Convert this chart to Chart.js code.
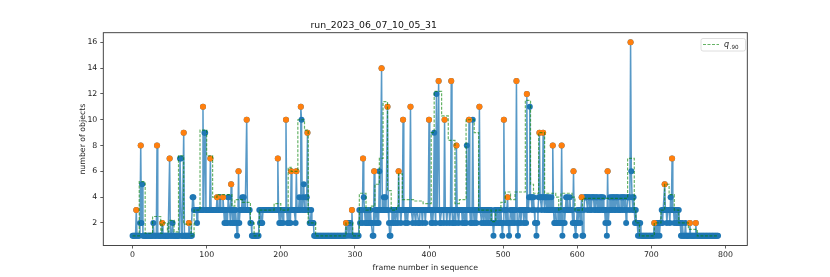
<!DOCTYPE html>
<html>
<head>
<meta charset="utf-8">
<script src="https://cdn.jsdelivr.net/npm/chart.js@4.4.0/dist/chart.umd.min.js"></script>
<style>
  html, body { margin: 0; padding: 0; background: #fff; }
  #wrap { width: 830px; height: 277px; }
</style>
</head>
<body>
<div id="wrap"><canvas id="objectsChart" width="830" height="277"></canvas></div>
<script>
const chartTitle = 'run_2023_06_07_10_05_31';

// number of objects per frame (frame = index)
const objectCounts = [
    1, 1, 1, 1, 1, 3, 1, 1, 1, 1,
    2, 8, 2, 5, 1, 1, 1, 1, 1, 1,
    1, 1, 1, 1, 1, 1, 1, 1, 2, 1,
    1, 1, 1, 8, 1, 1, 1, 1, 1, 1,
    2, 1, 1, 1, 1, 1, 1, 1, 1, 1,
    7, 1, 1, 1, 2, 1, 1, 1, 1, 1,
    1, 1, 1, 1, 7, 7, 1, 1, 1, 9,
    1, 1, 1, 1, 1, 1, 2, 1, 1, 1,
    1, 4, 4, 3, 3, 3, 3, 2, 3, 3,
    3, 3, 3, 3, 3, 11, 3, 9, 9, 3,
    3, 3, 3, 3, 3, 7, 3, 3, 3, 3,
    3, 3, 3, 3, 4, 3, 3, 3, 4, 3,
    3, 3, 4, 3, 2, 3, 2, 3, 2, 4,
    4, 3, 2, 5, 3, 2, 3, 2, 3, 3,
    2, 1, 2, 6, 2, 3, 3, 3, 4, 3,
    4, 3, 3, 3, 10, 3, 3, 3, 3, 2,
    2, 1, 1, 1, 1, 1, 1, 1, 1, 1,
    1, 3, 2, 3, 2, 2, 3, 3, 3, 3,
    3, 3, 3, 3, 3, 3, 3, 3, 3, 3,
    3, 3, 3, 3, 3, 3, 7, 3, 2, 3,
    2, 3, 3, 2, 3, 3, 3, 10, 3, 2,
    3, 2, 3, 2, 6, 3, 3, 3, 3, 3,
    2, 6, 3, 3, 3, 4, 3, 11, 10, 3,
    4, 5, 3, 3, 4, 4, 9, 3, 3, 2,
    2, 3, 2, 2, 2, 1, 1, 1, 1, 1,
    1, 1, 1, 1, 1, 1, 1, 1, 1, 1,
    1, 1, 1, 1, 1, 1, 1, 1, 1, 1,
    1, 1, 1, 1, 1, 1, 1, 1, 1, 1,
    1, 1, 1, 1, 1, 1, 1, 1, 2, 1,
    2, 2, 1, 2, 2, 1, 3, 1, 1, 1,
    1, 1, 1, 1, 1, 1, 3, 2, 3, 3,
    2, 7, 4, 3, 2, 3, 2, 2, 3, 2,
    2, 3, 2, 2, 1, 1, 6, 2, 3, 3,
    2, 3, 2, 6, 3, 3, 14, 3, 3, 4,
    3, 4, 3, 3, 11, 3, 2, 1, 1, 2,
    3, 3, 2, 3, 3, 2, 3, 3, 2, 6,
    3, 3, 2, 3, 3, 10, 3, 3, 2, 3,
    3, 2, 3, 3, 3, 11, 3, 3, 2, 3,
    3, 3, 2, 3, 3, 3, 2, 2, 3, 3,
    3, 2, 3, 3, 3, 2, 3, 3, 3, 3,
    10, 3, 3, 2, 3, 2, 3, 9, 3, 2,
    12, 3, 3, 13, 3, 2, 2, 3, 3, 3,
    2, 10, 3, 3, 2, 3, 3, 3, 2, 3,
    13, 3, 2, 2, 3, 3, 2, 8, 3, 3,
    2, 3, 3, 3, 3, 2, 3, 3, 2, 3,
    2, 8, 3, 3, 10, 3, 2, 3, 2, 10,
    3, 2, 3, 3, 2, 3, 3, 3, 11, 3,
    3, 2, 3, 3, 2, 3, 3, 2, 3, 3,
    2, 3, 3, 2, 3, 2, 2, 1, 2, 3,
    3, 2, 3, 3, 2, 3, 2, 3, 2, 1,
    2, 10, 3, 3, 2, 3, 4, 2, 1, 2,
    3, 3, 2, 3, 3, 2, 3, 3, 13, 2,
    1, 2, 3, 3, 2, 3, 3, 3, 2, 3,
    3, 2, 12, 3, 3, 4, 11, 4, 4, 3,
    4, 4, 3, 2, 2, 1, 2, 3, 4, 9,
    4, 4, 3, 4, 9, 4, 3, 4, 4, 3,
    4, 3, 4, 3, 3, 4, 3, 8, 3, 2,
    2, 3, 2, 2, 3, 3, 2, 3, 2, 8,
    1, 2, 3, 2, 3, 4, 3, 4, 3, 3,
    4, 3, 3, 3, 2, 6, 2, 2, 1, 2,
    3, 2, 3, 3, 2, 3, 4, 1, 1, 3,
    4, 4, 4, 4, 3, 4, 4, 3, 4, 3,
    4, 4, 4, 3, 4, 3, 4, 4, 3, 3,
    4, 3, 4, 4, 3, 4, 3, 3, 2, 3,
    1, 6, 2, 3, 4, 3, 4, 3, 4, 4,
    3, 4, 3, 4, 4, 3, 4, 3, 3, 4,
    4, 3, 4, 4, 3, 4, 2, 3, 4, 4,
    4, 3, 16, 6, 4, 3, 4, 3, 2, 3,
    2, 2, 1, 2, 1, 2, 1, 1, 1, 1,
    1, 1, 1, 1, 1, 1, 1, 1, 1, 1,
    1, 1, 1, 1, 2, 1, 2, 2, 1, 2,
    2, 1, 2, 2, 3, 2, 3, 3, 5, 3,
    3, 2, 3, 3, 3, 2, 4, 3, 7, 3,
    3, 2, 3, 3, 2, 3, 2, 3, 2, 2,
    1, 1, 2, 1, 1, 1, 2, 1, 1, 1,
    1, 1, 2, 1, 1, 1, 1, 1, 1, 1,
    2, 1, 1, 1, 1, 1, 1, 1, 1, 1,
    1, 1, 1, 1, 1, 1, 1, 1, 1, 1,
    1, 1, 1, 1, 1, 1, 1, 1, 1, 1,
    1
];

// frames marked as peaks (orange dots)
const peakFrames = [5, 11, 33, 40, 50, 69, 76, 95, 105, 114, 122, 133, 143, 154, 196, 207, 214, 221,
    227, 236, 288, 296, 311, 326, 336, 344, 359, 365, 375, 400, 413, 421, 430, 437, 454, 468,
    501, 506, 518, 532, 549, 554, 567, 579, 595, 606, 641, 672, 704, 718, 728, 752, 760];

// q.90 line: frame where each level starts, and the level
const q90Frames = [0, 9, 17, 27, 38, 40, 47, 49, 56, 62, 69, 79, 83, 91, 100, 108, 114, 134, 138, 148,
    159, 164, 171, 191, 200, 210, 214, 223, 232, 237, 247, 288, 297, 306, 315, 321, 327, 333, 338, 344,
    349, 356, 359, 364, 381, 392, 403, 407, 417, 426, 435, 441, 450, 461, 467, 484, 490, 497, 503, 510,
    516, 530, 537, 541, 548, 556, 571, 575, 578, 593, 597, 607, 668, 677, 679, 684, 704, 713, 718, 724,
    731, 737, 750, 762, 790];
const q90Values = [1, 5.2, 1.2, 2.5, 1.2, 2, 1.3, 2.2, 1.3, 7.2, 1.9, 1, 3, 9.2, 7.2, 4, 4.2, 3.3, 3.8, 3.6,
    2, 1, 3, 3.5, 3, 6.3, 6, 10, 9.2, 2, 1, 2, 1, 4.3, 3, 3.3, 5, 7, 11.4, 4.5,
    3, 3.3, 5.8, 3.8, 3.7, 3.5, 9, 12.2, 10.3, 8.4, 3.5, 3.8, 10, 9, 3, 2.1, 3, 3.6, 4.4, 3.8,
    4.4, 11.5, 5, 4.3, 9, 4.3, 4, 3, 4.3, 4, 3, 3.9, 7, 3, 2, 1, 2, 3, 5, 4.2,
    3, 2, 1.5, 1, 1];

const xTicks = [0, 100, 200, 300, 400, 500, 600, 700, 800];
const yTicks = [2, 4, 6, 8, 10, 12, 14, 16];

const blue = '#1f77b4';
const orange = '#ff7f0e';
const q90Color = 'rgba(0, 128, 0, 0.6)';

Chart.defaults.font.family = "'DejaVu Sans', sans-serif";

// draws the full box round the plot, like matplotlib spines
const framePlugin = {
    id: 'axesFrame',
    afterDatasetsDraw(chart) {
        const { ctx, chartArea: a } = chart;
        ctx.save();
        ctx.strokeStyle = '#333';
        ctx.lineWidth = 0.9;
        ctx.strokeRect(a.left, a.top, a.right - a.left, a.bottom - a.top);
        ctx.restore();
    }
};

// legend with the q subscript .90
const legendPlugin = {
    id: 'q90Legend',
    afterDraw(chart) {
        const { ctx, chartArea: a } = chart;
        const bw = 44.5, bh = 12.5;
        const bx = a.right - bw - 1.8, by = a.top + 5.8;
        ctx.save();
        ctx.beginPath();
        ctx.roundRect(bx, by, bw, bh, 2);
        ctx.fillStyle = 'rgba(255,255,255,0.8)';
        ctx.fill();
        ctx.strokeStyle = '#d6d6d6';
        ctx.lineWidth = 0.8;
        ctx.stroke();

        ctx.strokeStyle = q90Color;
        ctx.lineWidth = 1.2;
        ctx.setLineDash([3, 1.5]);
        ctx.beginPath();
        ctx.moveTo(bx + 2, by + 6);
        ctx.lineTo(bx + 18, by + 6);
        ctx.stroke();
        ctx.setLineDash([]);

        ctx.fillStyle = '#222';
        ctx.textBaseline = 'alphabetic';
        ctx.font = "italic 8px 'DejaVu Sans'";
        ctx.fillText('q', bx + 23, by + 8.3);
        ctx.font = "5.6px 'DejaVu Sans'";
        ctx.fillText('.90', bx + 28.6, by + 10);
        ctx.restore();
    }
};

const ctx = document.getElementById('objectsChart').getContext('2d');
new Chart(ctx, {
    type: 'line',
    data: {
        datasets: [
            {
                label: 'objects',
                data: objectCounts.map((v, i) => ({ x: i, y: v })),
                borderColor: 'rgba(31, 119, 180, 0.75)',
                borderWidth: 1.5,
                pointRadius: 3,
                pointBorderWidth: 0,
                pointBackgroundColor: blue,
                order: 2
            },
            {
                label: 'peaks',
                data: peakFrames.map(f => ({ x: f, y: objectCounts[f] })),
                showLine: false,
                pointRadius: 3,
                pointBorderWidth: 0,
                pointBackgroundColor: orange,
                order: 1
            },
            {
                label: 'q.90',
                data: q90Frames.map((f, i) => ({ x: f, y: q90Values[i] })),
                stepped: true,
                borderColor: q90Color,
                borderWidth: 1.2,
                borderDash: [3, 1.5],
                pointRadius: 0,
                order: 0
            }
        ]
    },
    options: {
        responsive: false,
        animation: false,
        devicePixelRatio: 1,
        layout: { padding: { left: 0, right: 82.7, top: 0, bottom: 0 } },
        plugins: {
            legend: { display: false },
            tooltip: { enabled: false },
            title: {
                display: true,
                text: chartTitle,
                color: '#111',
                font: { size: 9.3, weight: 'normal' },
                padding: { top: 20, bottom: 1.54 }
            }
        },
        scales: {
            x: {
                type: 'linear',
                min: -39.5,
                max: 829.5,
                afterBuildTicks: axis => { axis.ticks = xTicks.map(v => ({ value: v })); },
                afterFit: axis => { axis.height = 31.5; },
                grid: { drawOnChartArea: false, color: '#333', lineWidth: 0.8, tickLength: 3 },
                border: { display: false },
                ticks: { color: '#222', font: { size: 7.8 }, padding: 2, maxRotation: 0, autoSkip: false },
                title: {
                    display: true,
                    text: 'frame number in sequence',
                    color: '#222',
                    font: { size: 7.8 },
                    padding: { top: 0, bottom: 4.3 }
                }
            },
            y: {
                type: 'linear',
                min: 0.25,
                max: 16.75,
                afterBuildTicks: axis => { axis.ticks = yTicks.map(v => ({ value: v })); },
                afterFit: axis => { axis.width = 103.3; },
                grid: { drawOnChartArea: false, color: '#333', lineWidth: 0.8, tickLength: 3 },
                border: { display: false },
                ticks: { color: '#222', font: { size: 7.8 }, padding: 3 },
                title: {
                    display: true,
                    text: 'number of objects',
                    color: '#222',
                    font: { size: 7.8 },
                    padding: { top: 78, bottom: 0 }
                }
            }
        }
    },
    plugins: [framePlugin, legendPlugin]
});
</script>
</body>
</html>
